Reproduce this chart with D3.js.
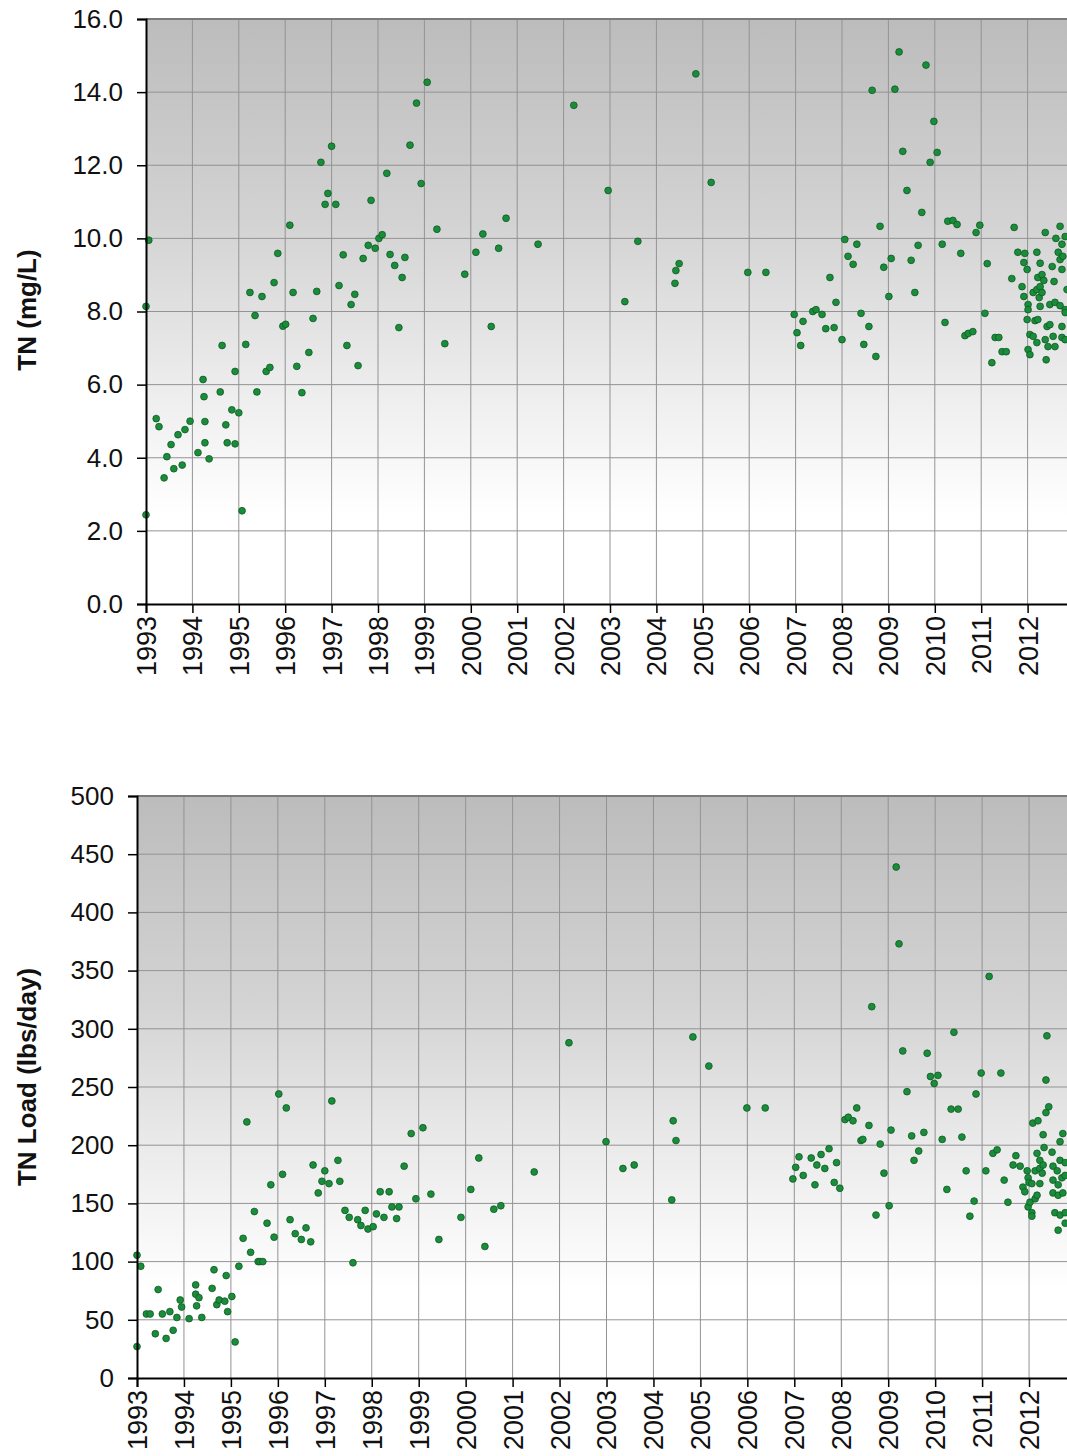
<!DOCTYPE html>
<html>
<head>
  <meta charset="utf-8">
  <script src="https://cdn.jsdelivr.net/npm/d3@7/dist/d3.min.js"></script>
  <style>
    body { margin: 0; background: #fff; }
    text { font-family: Arial, "Liberation Sans", sans-serif; fill: #111; }
  </style>
</head>
<body>
<script>
// year ticks shared by both panels (2013 sits just past the right edge)
var yearTicks = d3.range(1993, 2013);
var tnTicks = [0, 2, 4, 6, 8, 10, 12, 14, 16];
var loadTicks = [0, 50, 100, 150, 200, 250, 300, 350, 400, 450, 500];

// TN concentration (mg/L) : [decimal year, value]
var tnPoints = [
  [1993.00, 8.14], [1993.06, 9.95], [1993.00, 2.44], [1993.22, 5.07], [1993.28, 4.85],
  [1993.39, 3.45], [1993.45, 4.03], [1993.54, 4.36], [1993.60, 3.70], [1993.69, 4.63],
  [1993.78, 3.80], [1993.84, 4.77], [1993.95, 5.00], [1994.12, 4.14], [1994.23, 6.14],
  [1994.25, 5.67], [1994.27, 4.99], [1994.27, 4.41], [1994.36, 3.97], [1994.60, 5.80],
  [1994.64, 7.07], [1994.72, 4.90], [1994.75, 4.41], [1994.85, 5.31], [1994.92, 4.38],
  [1994.92, 6.36], [1995.00, 5.23], [1995.07, 2.55], [1995.15, 7.10], [1995.39, 5.80],
  [1995.59, 6.36], [1995.67, 6.47], [1996.25, 6.50], [1996.36, 5.78], [1996.51, 6.88],
  [1995.24, 8.52], [1995.50, 8.41], [1995.35, 7.89], [1995.76, 8.79], [1995.84, 9.59],
  [1996.10, 10.36], [1995.95, 7.60], [1996.01, 7.65], [1996.17, 8.52], [1996.68, 8.55],
  [1996.60, 7.81], [1996.77, 12.08], [1997.00, 12.52], [1996.92, 11.23], [1996.86, 10.93],
  [1997.09, 10.93], [1997.16, 8.71], [1997.25, 9.55], [1997.50, 8.47], [1997.42, 8.19],
  [1997.33, 7.07], [1997.57, 6.52], [1997.68, 9.45], [1997.79, 9.81], [1997.85, 11.04],
  [1997.94, 9.73], [1998.02, 10.00], [1998.09, 10.10], [1998.19, 11.78], [1998.26, 9.56],
  [1998.36, 9.26], [1998.45, 7.56], [1998.52, 8.93], [1998.58, 9.48], [1998.69, 12.55],
  [1998.83, 13.70], [1998.93, 11.50], [1999.06, 14.27], [1999.27, 10.25], [1999.44, 7.12],
  [1999.87, 9.02], [2000.11, 9.62], [2000.26, 10.12], [2000.44, 7.59], [2000.60, 9.73],
  [2000.76, 10.55], [2001.45, 9.84], [2002.22, 13.64], [2002.96, 11.31], [2003.32, 8.27],
  [2003.60, 9.92], [2004.40, 8.77], [2004.42, 9.12], [2004.49, 9.31], [2004.85, 14.50],
  [2005.18, 11.53], [2005.97, 9.07], [2006.36, 9.07],
  [2006.97, 7.92], [2007.03, 7.42], [2007.11, 7.07], [2007.16, 7.73], [2007.37, 8.00],
  [2007.44, 8.05], [2007.57, 7.92], [2007.65, 7.53], [2007.74, 8.93], [2007.83, 7.56],
  [2007.87, 8.25], [2008.00, 7.23], [2008.06, 9.97], [2008.13, 9.51], [2008.24, 9.29],
  [2008.32, 9.84], [2008.41, 7.95], [2008.47, 7.10], [2008.58, 7.59], [2008.65, 14.05],
  [2008.73, 6.77], [2008.82, 10.33], [2008.90, 9.21], [2009.01, 8.41], [2009.06, 9.45],
  [2009.14, 14.08], [2009.23, 15.10], [2009.31, 12.38], [2009.40, 11.31], [2009.49, 9.40],
  [2009.57, 8.52], [2009.64, 9.81], [2009.72, 10.71], [2009.81, 14.74], [2009.90, 12.08],
  [2009.98, 13.20], [2010.05, 12.35], [2010.16, 9.84], [2010.22, 7.70], [2010.28, 10.47],
  [2010.39, 10.49], [2010.48, 10.38], [2010.56, 9.59], [2010.65, 7.34], [2010.72, 7.40],
  [2010.82, 7.45], [2010.89, 10.16], [2010.97, 10.36], [2011.08, 7.95], [2011.13, 9.31],
  [2011.23, 6.60], [2011.30, 7.29], [2011.38, 7.29], [2011.45, 6.90], [2011.54, 6.90],
  [2011.66, 8.90], [2011.71, 10.30], [2011.79, 9.62], [2011.88, 8.68], [2011.92, 9.34],
  [2011.92, 8.41], [2011.94, 9.59], [2011.99, 9.15], [2011.99, 7.78], [2012.01, 8.19],
  [2012.01, 8.05], [2012.01, 6.96], [2012.05, 7.37], [2012.05, 6.82], [2012.12, 7.32],
  [2012.12, 8.52], [2012.16, 7.75], [2012.20, 7.15], [2012.20, 9.62], [2012.20, 8.60],
  [2012.22, 7.78], [2012.22, 8.93], [2012.25, 8.38], [2012.27, 9.32], [2012.27, 8.68],
  [2012.27, 8.14], [2012.31, 9.01], [2012.31, 8.52], [2012.35, 8.85], [2012.38, 10.16],
  [2012.38, 7.23], [2012.40, 6.68], [2012.42, 7.59], [2012.44, 7.04], [2012.48, 7.64],
  [2012.48, 8.19], [2012.53, 9.23], [2012.55, 7.32], [2012.57, 8.82], [2012.59, 8.25],
  [2012.59, 7.04], [2012.61, 10.00], [2012.66, 9.62], [2012.70, 9.42], [2012.70, 8.16],
  [2012.70, 10.33], [2012.74, 9.84], [2012.74, 9.15], [2012.74, 7.59], [2012.74, 7.29],
  [2012.76, 9.51], [2012.81, 10.05], [2012.81, 8.05], [2012.81, 7.97], [2012.81, 7.23],
  [2012.85, 8.60]
];

// TN load (lbs/day) : [decimal year, value]
var loadPoints = [
  [1993.00, 105.5], [1993.08, 96], [1993.00, 27], [1993.20, 55], [1993.28, 55],
  [1993.45, 76], [1993.39, 38], [1993.54, 55], [1993.62, 34], [1993.70, 57],
  [1993.77, 41], [1993.85, 52], [1993.92, 67], [1993.95, 61], [1994.11, 51],
  [1994.25, 80], [1994.25, 72], [1994.32, 69], [1994.27, 62], [1994.38, 52],
  [1994.60, 77], [1994.64, 93], [1994.70, 63], [1994.75, 67], [1994.87, 66],
  [1994.90, 88], [1994.93, 57], [1995.02, 70], [1995.09, 31], [1995.17, 96],
  [1995.26, 120], [1995.34, 220], [1995.42, 108], [1995.50, 143], [1995.58, 100],
  [1995.62, 100], [1995.68, 100], [1995.77, 133], [1995.85, 166], [1995.92, 121],
  [1996.02, 244], [1996.18, 232], [1996.10, 175], [1996.26, 136], [1996.37, 124],
  [1996.50, 119], [1996.60, 129], [1996.70, 117], [1996.75, 183], [1996.86, 159],
  [1997.00, 178], [1996.94, 169], [1997.09, 167], [1997.15, 238], [1997.28, 187],
  [1997.32, 169], [1997.43, 144], [1997.52, 138], [1997.60, 99], [1997.70, 136],
  [1997.77, 131], [1997.86, 144], [1997.92, 128], [1998.03, 130], [1998.10, 141],
  [1998.18, 160], [1998.37, 160], [1998.26, 138], [1998.43, 147], [1998.58, 147],
  [1998.53, 137], [1998.69, 182], [1998.84, 210], [1998.94, 154], [1999.09, 215],
  [1999.26, 158], [1999.43, 119], [1999.90, 138], [2000.11, 162], [2000.28, 189],
  [2000.41, 113], [2000.60, 145], [2000.75, 148], [2001.46, 177], [2002.20, 288],
  [2002.99, 203], [2003.35, 180], [2003.59, 183], [2004.39, 153], [2004.42, 221],
  [2004.48, 204], [2004.84, 293], [2005.18, 268], [2005.99, 232], [2006.38, 232],
  [2006.97, 171], [2007.03, 181], [2007.10, 190], [2007.19, 174], [2007.36, 189],
  [2007.44, 166], [2007.48, 183], [2007.57, 192], [2007.65, 180], [2007.74, 197],
  [2007.85, 168], [2007.90, 185], [2007.97, 163], [2008.08, 222], [2008.15, 224],
  [2008.25, 221], [2008.33, 232], [2008.42, 204], [2008.46, 205], [2008.59, 217],
  [2008.65, 319], [2008.74, 140], [2008.83, 201], [2008.91, 176], [2009.02, 148],
  [2009.06, 213], [2009.17, 439], [2009.23, 373], [2009.31, 281], [2009.40, 246],
  [2009.50, 208], [2009.55, 187], [2009.65, 195], [2009.76, 211], [2009.83, 279],
  [2009.90, 259], [2009.98, 253], [2010.06, 260], [2010.15, 205], [2010.25, 162],
  [2010.34, 231], [2010.40, 297], [2010.49, 231], [2010.57, 207], [2010.66, 178],
  [2010.74, 139], [2010.83, 152], [2010.87, 244], [2010.98, 262], [2011.08, 178],
  [2011.15, 345], [2011.23, 193], [2011.32, 196], [2011.40, 262], [2011.47, 170],
  [2011.55, 151], [2011.66, 183], [2011.72, 191], [2011.81, 182], [2011.87, 164],
  [2011.91, 160], [2011.96, 178], [2011.98, 172], [2011.98, 147], [2012.00, 168],
  [2012.02, 151], [2012.06, 167], [2012.06, 142], [2012.06, 139], [2012.08, 219],
  [2012.13, 178], [2012.13, 154], [2012.17, 193], [2012.17, 157], [2012.19, 221],
  [2012.23, 187], [2012.23, 180], [2012.23, 167], [2012.28, 176], [2012.30, 209],
  [2012.30, 183], [2012.32, 198], [2012.36, 256], [2012.36, 228], [2012.38, 294],
  [2012.42, 233], [2012.49, 194], [2012.51, 182], [2012.51, 170], [2012.51, 159],
  [2012.55, 142], [2012.60, 178], [2012.62, 166], [2012.62, 157], [2012.62, 127],
  [2012.66, 203], [2012.66, 187], [2012.66, 140], [2012.70, 172], [2012.72, 210],
  [2012.72, 159], [2012.77, 185], [2012.77, 174], [2012.77, 142], [2012.77, 133]
];

var W = 1067, H = 1456;
var svg = d3.select("body").append("svg")
  .attr("width", W).attr("height", H);

var defs = svg.append("defs");
var grad = defs.append("linearGradient").attr("id", "bg")
  .attr("x1", 0).attr("y1", 0).attr("x2", 0).attr("y2", 1);
grad.append("stop").attr("offset", "0%").attr("stop-color", "#bcbcbc");
grad.append("stop").attr("offset", "35%").attr("stop-color", "#d3d3d3");
grad.append("stop").attr("offset", "62%").attr("stop-color", "#ececec");
grad.append("stop").attr("offset", "85%").attr("stop-color", "#ffffff");

function panel(cfg) {
  var x = d3.scaleLinear().domain([1993, 2013]).range([cfg.left, cfg.right]);
  var y = d3.scaleLinear().domain(cfg.domain).range([cfg.bottom, cfg.top]);
  var g = svg.append("g");

  g.append("rect")
    .attr("x", cfg.left).attr("y", cfg.top)
    .attr("width", cfg.right - cfg.left).attr("height", cfg.bottom - cfg.top)
    .attr("fill", "url(#bg)");

  // grid
  g.append("g").selectAll("line").data(cfg.yTicks.slice(1, -1)).join("line")
    .attr("x1", cfg.left).attr("x2", cfg.right)
    .attr("y1", d => y(d)).attr("y2", d => y(d))
    .attr("stroke", "#939393").attr("stroke-width", 1);
  g.append("g").selectAll("line").data(yearTicks.slice(1)).join("line")
    .attr("x1", d => x(d)).attr("x2", d => x(d))
    .attr("y1", cfg.top).attr("y2", cfg.bottom)
    .attr("stroke", "#939393").attr("stroke-width", 1);

  // top border
  g.append("line")
    .attr("x1", cfg.left).attr("x2", cfg.right)
    .attr("y1", cfg.top).attr("y2", cfg.top)
    .attr("stroke", "#7a7a7a").attr("stroke-width", 2);

  // points
  g.append("g").selectAll("circle").data(cfg.data).join("circle")
    .attr("cx", d => x(d[0])).attr("cy", d => y(d[1]))
    .attr("r", 3.4)
    .attr("fill", "#1b8c3a").attr("stroke", "#0d5a24").attr("stroke-width", 0.8);

  // axes
  var ya = g.append("g").attr("transform", "translate(" + cfg.left + ",0)")
    .call(d3.axisLeft(y).tickValues(cfg.yTicks).tickFormat(cfg.fmt)
      .tickSize(9).tickPadding(14));
  ya.select(".domain").attr("stroke", "#000").attr("stroke-width", 2);
  ya.selectAll(".tick line").attr("stroke", "#000").attr("stroke-width", 1.5);
  ya.selectAll("text").attr("font-size", 26).attr("fill", "#111")
    .attr("font-family", "Arial, 'Liberation Sans', sans-serif");

  var xa = g.append("g").attr("transform", "translate(0," + cfg.bottom + ")")
    .call(d3.axisBottom(x).tickValues(yearTicks).tickFormat(d3.format("d"))
      .tickSize(9).tickPadding(3));
  xa.select(".domain").attr("stroke", "#000").attr("stroke-width", 2);
  xa.selectAll(".tick line").attr("stroke", "#000").attr("stroke-width", 1.5);
  xa.selectAll("text")
    .attr("font-size", 27).attr("fill", "#111")
    .attr("font-family", "Arial, 'Liberation Sans', sans-serif")
    .attr("text-anchor", "end")
    .attr("transform", "rotate(-90)")
    .attr("x", -12).attr("y", 0).attr("dy", "0.35em");

  g.append("text")
    .attr("transform", "translate(" + cfg.titleX + "," + cfg.titleY + ") rotate(-90)")
    .attr("text-anchor", "middle").attr("dy", "0.35em")
    .attr("font-size", 26).attr("font-weight", "bold")
    .text(cfg.title);
}

panel({
  left: 146, right: 146 + 20 * 46.4, top: 19, bottom: 604,
  domain: [0, 16], yTicks: tnTicks, fmt: d3.format(".1f"),
  data: tnPoints, title: "TN (mg/L)", titleX: 27, titleY: 310
});

panel({
  left: 137, right: 137 + 20 * 46.95, top: 796, bottom: 1378,
  domain: [0, 500], yTicks: loadTicks, fmt: d3.format("d"),
  data: loadPoints, title: "TN Load (lbs/day)", titleX: 27, titleY: 1077
});
</script>
</body>
</html>
